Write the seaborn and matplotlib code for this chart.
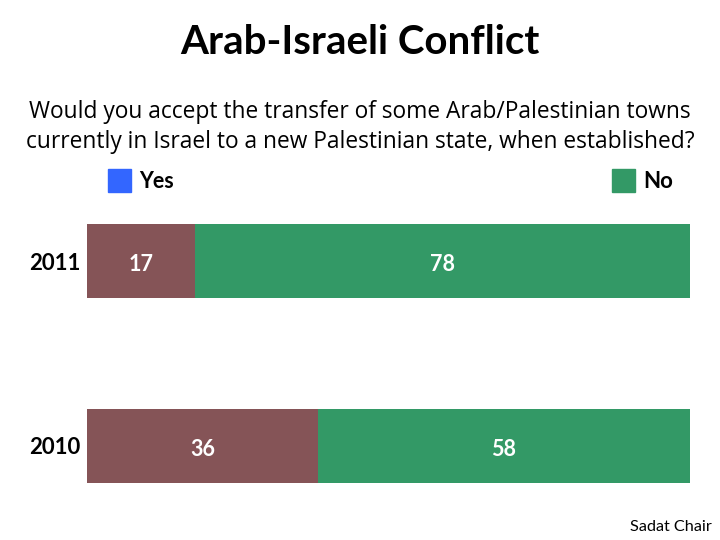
import matplotlib
matplotlib.use("Agg")
import matplotlib.pyplot as plt
from matplotlib.patches import Rectangle
import seaborn as sns
import pandas as pd
import numpy as np

years = ["2011", "2010"]
yes_vals = [17, 36]
no_vals = [78, 58]
legend_labels = ["Yes", "No"]

yes_color = "#855457"
no_color = "#339966"
legend_yes_color = "#3366FF"

sns.set_theme(style="white")
plt.rcParams["font.family"] = ["Lato", "DejaVu Sans"]
plt.rcParams["text.color"] = "black"
plt.rcParams["ytick.color"] = "black"

totals = np.array(yes_vals) + np.array(no_vals)
yes_pct = np.array(yes_vals) / totals * 100
df = pd.DataFrame({"year": years, "yes": yes_vals, "no": no_vals,
                   "yes_pct": yes_pct, "total": np.full(len(years), 100.0)})

fig = plt.figure(figsize=(7.2, 5.4), dpi=100)
ax = fig.add_axes([87/720, 1-483/540, (690-87)/720, (483-224)/540])

sns.barplot(data=df, x="total", y="year", orient="h", color=no_color,
            width=0.4, ax=ax, saturation=1, edgecolor="none")
sns.barplot(data=df, x="yes_pct", y="year", orient="h", color=yes_color,
            width=0.4, ax=ax, saturation=1, edgecolor="none")

ax.set_xlim(0, 100)
ax.set_ylim(1.2, -0.2)
ax.set_xlabel("")
ax.set_ylabel("")
ax.set_xticks([])
for s in ax.spines.values():
    s.set_visible(False)
ax.tick_params(axis="y", length=0, pad=5)
for lab in ax.get_yticklabels():
    lab.set_fontweight("bold")
    lab.set_fontsize(16)
    lab.set_color("black")

for i, (y, n, p) in enumerate(zip(yes_vals, no_vals, yes_pct)):
    ax.text(p/2, i + 0.02, str(y), ha="center", va="center", color="white",
            fontsize=15.5, fontweight="bold")
    ax.text(p + (100-p)/2, i + 0.02, str(n), ha="center", va="center",
            color="white", fontsize=15.5, fontweight="bold")

fig.text(0.5, 1-43/540, "Arab-Israeli Conflict", ha="center", va="center",
         fontsize=29, fontweight="bold")
fig.text(0.5, 1-127/540,
         "Would you accept the transfer of some Arab/Palestinian towns\n"
         "currently in Israel to a new Palestinian state, when established?",
         ha="center", va="center", fontsize=16.4, family=["Open Sans", "DejaVu Sans"],
         linespacing=1.3)

fig.patches.append(Rectangle((108/720, 1-192/540), 23/720, 23/540,
                             transform=fig.transFigure, color=legend_yes_color))
fig.text(139/720, 1-181/540, legend_labels[0], ha="left", va="center",
         fontsize=15.5, fontweight="bold")
fig.patches.append(Rectangle((612/720, 1-192/540), 23/720, 23/540,
                             transform=fig.transFigure, color=no_color))
fig.text(643/720, 1-181/540, legend_labels[1], ha="left", va="center",
         fontsize=16, fontweight="bold")

fig.text(712/720, 1-527/540, "Sadat Chair", ha="right", va="center", fontsize=11.7)

fig.savefig("out.png", dpi=100)
